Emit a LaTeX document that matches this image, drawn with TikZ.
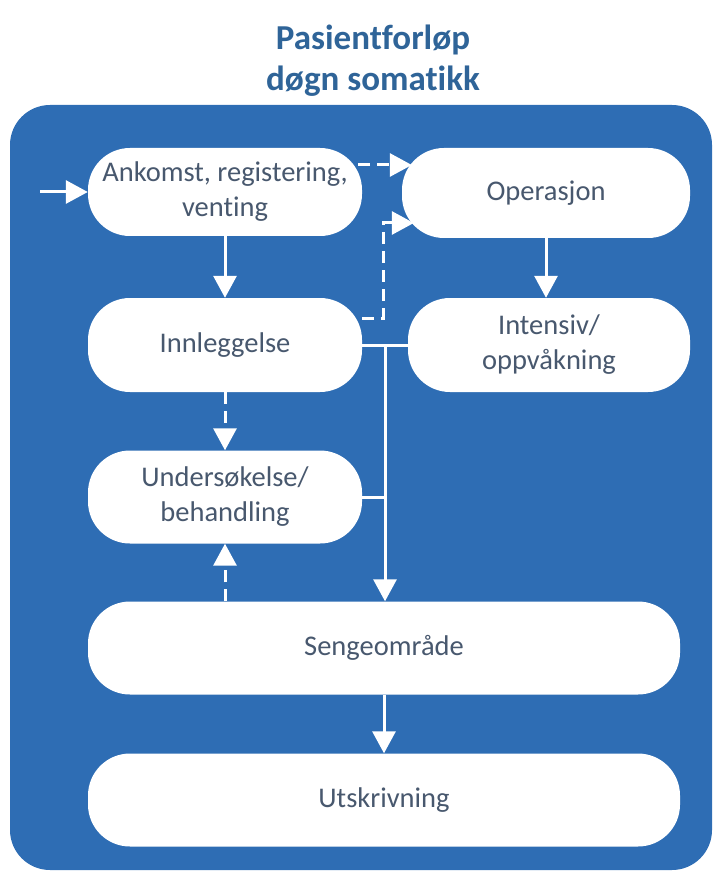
\documentclass[tikz,border=0pt]{standalone}
\usepackage{fontspec}
\setmainfont{Carlito}[Ligatures=NoCommon]
\usetikzlibrary{arrows.meta,calc}
\definecolor{bgblue}{RGB}{46,109,180}
\definecolor{titleblue}{RGB}{47,100,152}
\definecolor{txt}{RGB}{72,88,110}
\tikzset{
  pill/.style={fill=white,draw=none,rounded corners=42pt,align=center,text=txt,
    font=\fontsize{28.5}{35}\selectfont,inner sep=0pt},
  arr/.style={draw=white,line width=3pt,-{Triangle[width=23pt,length=22pt]}},
  ln/.style={draw=white,line width=3pt},
  dsh/.style={dash pattern=on 12pt off 7pt}
}
\begin{document}
\begin{tikzpicture}[x=1pt,y=-1pt]
\useasboundingbox (0,0) rectangle (718,874);
\fill[bgblue,rounded corners=40pt] (10,105) rectangle (712,870);
\node[font=\fontsize{35}{41}\selectfont\bfseries,text=titleblue,align=center] (title) at (373,61) {Pasientforløp\\døgn somatikk};
\node[pill,minimum width=274pt,minimum height=88pt] (ank) at (225,192) {Ankomst, registering,\\venting};
\node[pill,minimum width=288pt,minimum height=90pt] (ops) at (546,193) {Operasjon};
\node[pill,minimum width=274pt,minimum height=94pt] (inn) at (225,345) {Innleggelse};
\node[pill,minimum width=282pt,minimum height=94pt] (int) at (549,345) {Intensiv/\\oppvåkning};
\node[pill,minimum width=274pt,minimum height=93pt] (und) at (225,497) {Undersøkelse/\\behandling};
\node[pill,minimum width=592pt,minimum height=93pt] (seng) at (384,648) {Sengeområde};
\node[pill,minimum width=592pt,minimum height=93pt] (utsk) at (384,800) {Utskrivning};
\coordinate (start) at (40,192);
\coordinate (jn) at (385,345);
\coordinate (dj) at (383,223);
% connectors
\draw[arr] (start) -- (ank.west);
\draw[arr] (ank) -- (inn);
\draw[arr,dsh] ($(ank.east)+(-4,-27)$) -- ($(ops.west)+(10,-28)$);
\draw[arr,dsh] ($(inn.east)+(0,-27)$) -| (dj) -- ($(ops.west)+(12,30)$);
\draw[arr] (ops.south) -- (ops.south |- int.north);
\draw[arr,dsh] (inn) -- (und);
\draw[arr,dsh] (und.south |- seng.north) -- (und.south);
\draw[ln] (inn.east) -- (int.west);
\draw[arr] (jn) -- (jn |- seng.north);
\draw[ln] (und.east) -- (und.east -| jn);
\draw[arr] (seng) -- (utsk);
\end{tikzpicture}
\end{document}
